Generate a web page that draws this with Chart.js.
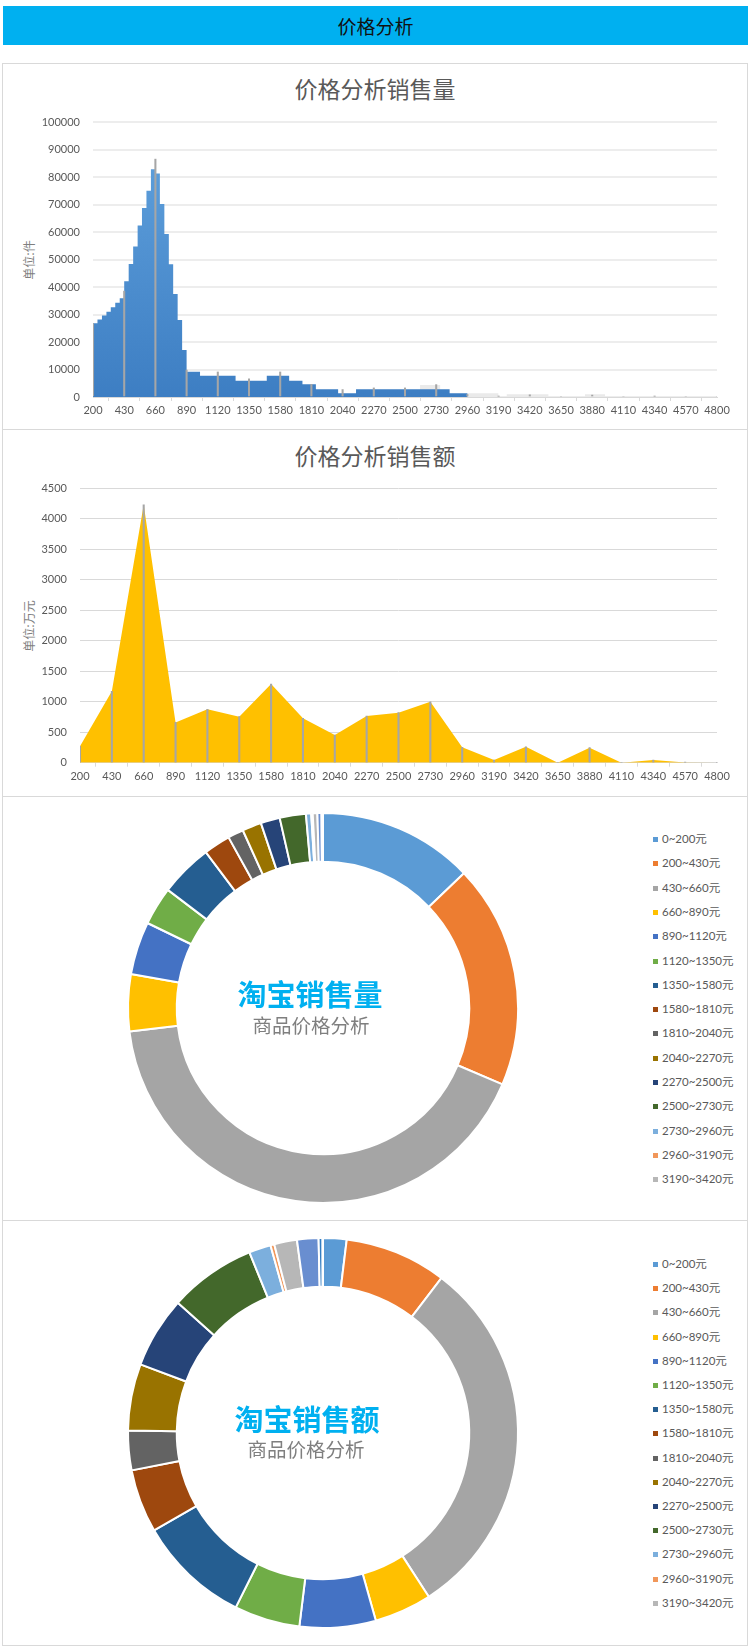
<!DOCTYPE html>
<html><head><meta charset="utf-8">
<script src="https://cdn.jsdelivr.net/npm/chart.js@4.4.1/dist/chart.umd.min.js"></script>
<style>
html,body{margin:0;padding:0;background:#fff}
body{position:relative;width:750px;height:1646px;overflow:hidden;font-family:Lato,"Noto Sans CJK SC",sans-serif}
.abs{position:absolute}
#hdr{left:3px;top:6px;width:745px;height:39px;background:#00B0F0;color:#111;font:19px "Noto Sans CJK SC";text-align:center;line-height:39px}
.panel{position:absolute;left:2px;width:746px;border:1px solid #D9D9D9;box-sizing:border-box}
.ttl{position:absolute;left:0;width:750px;text-align:center;font:23px "Noto Sans CJK SC";color:#595959;height:30px;line-height:30px}
.ytl{position:absolute;width:80px;height:16px;line-height:16px;text-align:center;font:12px "Noto Sans CJK SC";color:#7F7F7F;transform:rotate(-90deg)}
canvas{position:absolute}
.leg{position:absolute;left:653px;font:11.5px Lato,"Noto Sans CJK SC";color:#595959;height:16px;line-height:16px;white-space:nowrap}
.leg i{display:inline-block;width:5px;height:5px;margin-right:4px;vertical-align:1px}
.ct1{position:absolute;width:240px;text-align:center;font:bold 29px "Noto Sans CJK SC";color:#00B0F0;height:36px;line-height:36px}
.ct2{position:absolute;width:240px;text-align:center;font:19.5px "Noto Sans CJK SC";color:#7F7F7F;height:26px;line-height:26px}
</style></head>
<body>
<div id="hdr" class="abs">价格分析</div>
<div class="panel" style="top:63px;height:367px"></div>
<div class="panel" style="top:429px;height:368px"></div>
<div class="panel" style="top:796px;height:425px"></div>
<div class="panel" style="top:1220px;height:426px"></div>

<div class="ttl" style="top:73px">价格分析销售量</div>
<div class="ttl" style="top:440px">价格分析销售额</div>
<div class="ytl" style="left:-12px;top:252px">单位:件</div>
<div class="ytl" style="left:-12px;top:618px">单位:万元</div>

<canvas id="c1" width="744" height="364" style="left:3px;top:64px"></canvas>
<canvas id="c2" width="744" height="364" style="left:3px;top:431px"></canvas>
<canvas id="c3" width="400" height="400" style="left:123px;top:808px"></canvas>
<canvas id="c4" width="400" height="400" style="left:123px;top:1233px"></canvas>

<div class="ct1" style="left:190px;top:975px">淘宝销售量</div>
<div class="ct2" style="left:191px;top:1012px">商品价格分析</div>
<div class="ct1" style="left:187px;top:1400px">淘宝销售额</div>
<div class="ct2" style="left:186px;top:1436px">商品价格分析</div>
<div id="leg1"></div>
<div id="leg2"></div>

<script>
// ---- data ----
const priceTicks = [200,430,660,890,1120,1350,1580,1810,2040,2270,2500,2730,2960,3190,3420,3650,3880,4110,4340,4570,4800];
const rangeLabels = ['0~200元','200~430元','430~660元','660~890元','890~1120元','1120~1350元','1350~1580元','1580~1810元','1810~2040元','2040~2270元','2270~2500元','2500~2730元','2730~2960元','2960~3190元','3190~3420元','3420~3650元','3650~3880元','3880~4110元','4110~4340元','4340~4570元','4570~4800元'];
// histogram of units sold: bin left edges (元) and counts (件)
const volumeBinEdges  = [200,233,266,299,331,364,397,430,463,496,529,561,594,627,660,693,726,759,791,824,857,890,989,1251,1481,1646,1744,1843,2007,2139,2829,2960,4800];
const volumeBinCounts = [26800,28200,29600,31000,32600,34300,35900,42100,48400,54700,62400,68700,75000,82800,81300,70200,59300,48300,37500,28000,17100,9200,7750,5950,7750,5950,4600,2800,1350,2800,1350,0,0];
// faint light-grey background columns in the tail
const ghostBinEdges  = [2611,2759,2960,3188,3250,3557,3827,3975];
const ghostBinCounts = [4400,0,1350,0,1000,0,1000,0];
// units sold per price range (件)
const volumeByRange = [26700,38500,86500,9800,9100,6600,9100,4600,2700,3300,3300,4500,900,250,800,0,700,0,250,0,0];
// sales amount per price range (万元)
const salesByRange = [270,1170,4230,660,875,755,1290,728,454,766,820,1000,252,44,262,0,246,0,45,5,0];
const sliceColors = ['#5B9BD5','#ED7D31','#A5A5A5','#FFC000','#4472C4','#70AD47','#255E91','#9E480E','#636363','#997300','#264478','#43682B','#7CAFDD','#F1975A','#B7B7B7','#FFCD33','#698ED0','#8CC168','#327DC2','#D26012','#848484'];
const legendCount = 15;

const tickFont = {family:'Lato', size:11};
const plain = v => String(v);

function xScale(h){
  return {type:'linear', min:priceTicks[0], max:priceTicks[priceTicks.length-1], offset:false,
    afterBuildTicks: s => { s.ticks = priceTicks.map(v => ({value:v})); },
    afterFit: s => { s.height = h; },
    ticks:{autoSkip:false, maxRotation:0, minRotation:0, color:'#595959', font:tickFont, padding:3, callback:plain},
    grid:{drawOnChartArea:false, drawTicks:true, tickLength:4, color:'#D9D9D9'},
    border:{display:true, color:'#D9D9D9', width:1}};
}

// chart 1
new Chart(document.getElementById('c1'), {
  type:'line',
  data:{datasets:[
    {type:'bar', data: priceTicks.map((x,i)=>({x, y:volumeByRange[i]})), backgroundColor:'#A6A6A6', barThickness:1.4, order:0},
    {type:'line', data: volumeBinEdges.map((x,i)=>({x, y:volumeBinCounts[i]})), stepped:'before', fill:'origin', borderWidth:0, pointRadius:0,
     backgroundColor: ctx => { const ca = ctx.chart.chartArea; if(!ca) return '#5B9BD5';
       const g = ctx.chart.ctx.createLinearGradient(0, ca.top, 0, ca.bottom); g.addColorStop(0,'#62A3DE'); g.addColorStop(1,'#3D7EC3'); return g; },
     order:2},
    {type:'line', data: ghostBinEdges.map((x,i)=>({x, y:ghostBinCounts[i]})), stepped:'before', fill:'origin', borderWidth:0, pointRadius:0, backgroundColor:'#EAEAEA', order:3}
  ]},
  options:{responsive:false, animation:false, events:[],
    layout:{padding:{top:58, right:30, left:0, bottom:0}},
    plugins:{legend:{display:false}, tooltip:{enabled:false}},
    scales:{
      x: xScale(31),
      y:{min:0, max:100000, afterFit: s => { s.width = 90; },
         ticks:{stepSize:10000, color:'#595959', font:tickFont, padding:13, callback:plain},
         grid:{color:'#EDEDED', lineWidth:2, drawTicks:false}, border:{display:false}}
    }}
});

// chart 2
new Chart(document.getElementById('c2'), {
  type:'line',
  data:{datasets:[
    {type:'bar', data: priceTicks.map((x,i)=>({x, y:salesByRange[i]})), backgroundColor:'#A6A6A6', barThickness:1.4, order:0},
    {type:'line', data: priceTicks.map((x,i)=>({x, y:salesByRange[i]})), fill:'origin', borderWidth:0, pointRadius:0, backgroundColor:'#FFC000', order:2}
  ]},
  options:{responsive:false, animation:false, events:[],
    layout:{padding:{top:57.3, right:30, left:0, bottom:0}},
    plugins:{legend:{display:false}, tooltip:{enabled:false}},
    scales:{
      x: xScale(32.3),
      y:{min:0, max:4500, afterFit: s => { s.width = 77; },
         ticks:{stepSize:500, color:'#595959', font:tickFont, padding:13, callback:plain},
         grid:{color:'#D9D9D9', lineWidth:1, drawTicks:false}, border:{display:false}}
    }}
});

function donut(id, values){
  new Chart(document.getElementById(id), {
    type:'doughnut',
    data:{labels:rangeLabels, datasets:[{data:values, backgroundColor:sliceColors, borderColor:'#FFFFFF', borderWidth:2}]},
    options:{responsive:false, animation:false, events:[], cutout:'75%', layout:{padding:4},
      plugins:{legend:{display:false}, tooltip:{enabled:false}}}
  });
}
donut('c3', volumeByRange);
donut('c4', salesByRange);

function legend(id, top, step){
  const el = document.getElementById(id);
  for(let i=0;i<legendCount;i++){
    const d = document.createElement('div');
    d.className = 'leg';
    d.style.top = (top + i*step - 8) + 'px';
    d.innerHTML = '<i style="background:'+sliceColors[i]+'"></i>' + rangeLabels[i];
    el.appendChild(d);
  }
}
legend('leg1', 839, 24.3);
legend('leg2', 1264, 24.2);
</script>
</body></html>
